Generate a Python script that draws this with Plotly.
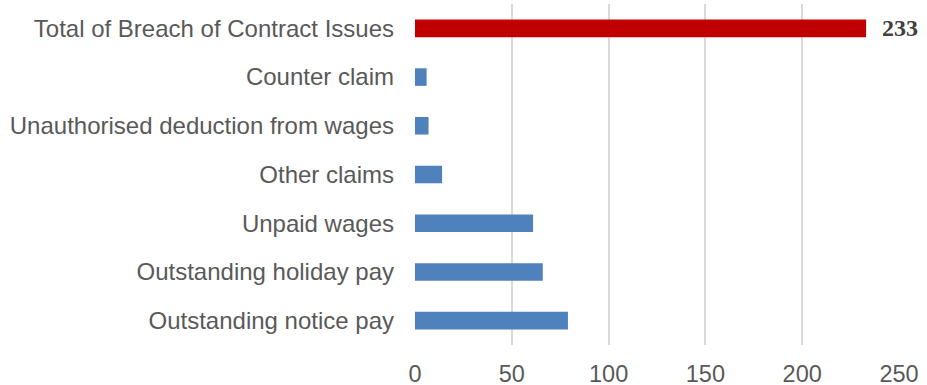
import plotly.graph_objects as go

# Categories listed bottom to top
categories = [
    "Outstanding notice pay",
    "Outstanding holiday pay",
    "Unpaid wages",
    "Other claims",
    "Unauthorised deduction from wages",
    "Counter claim",
    "Total of Breach of Contract Issues",
]
values = [79, 66, 61, 14, 7, 6, 233]
total_label = "Total of Breach of Contract Issues"
x_ticks = [0, 50, 100, 150, 200, 250]

bar_colors = ["#C00000" if c == total_label else "#4F81BD" for c in categories]
total_value = values[categories.index(total_label)]

fig = go.Figure(
    go.Bar(
        y=categories,
        x=values,
        orientation="h",
        marker=dict(color=bar_colors, line=dict(width=0)),
        hoverinfo="x+y",
    )
)

fig.add_annotation(
    x=total_value,
    y=total_label,
    text=str(total_value),
    showarrow=False,
    xanchor="left",
    xshift=14,
    font=dict(family="Liberation Serif", size=24, color="#404040", weight="bold"),
)

fig.update_layout(
    width=927,
    height=385,
    margin=dict(l=415, r=28, t=4, b=40),
    paper_bgcolor="white",
    plot_bgcolor="white",
    bargap=0.64,
    showlegend=False,
    font=dict(family="Arial, Liberation Sans, sans-serif", color="#595959"),
    xaxis=dict(
        range=[0, 250],
        tickvals=x_ticks,
        ticktext=[str(v) for v in x_ticks],
        showgrid=True,
        gridcolor="#D9D9D9",
        gridwidth=2,
        zeroline=False,
        showline=False,
        tickfont=dict(size=23.5, color="#595959"),
        ticklabelstandoff=12,
        automargin=False,
        fixedrange=True,
    ),
    yaxis=dict(
        categoryorder="array",
        categoryarray=categories,
        showgrid=False,
        zeroline=False,
        showline=False,
        tickfont=dict(size=24, color="#595959"),
        ticklabelstandoff=20,
        automargin=False,
        fixedrange=True,
    ),
)

fig.write_html("out.html")
